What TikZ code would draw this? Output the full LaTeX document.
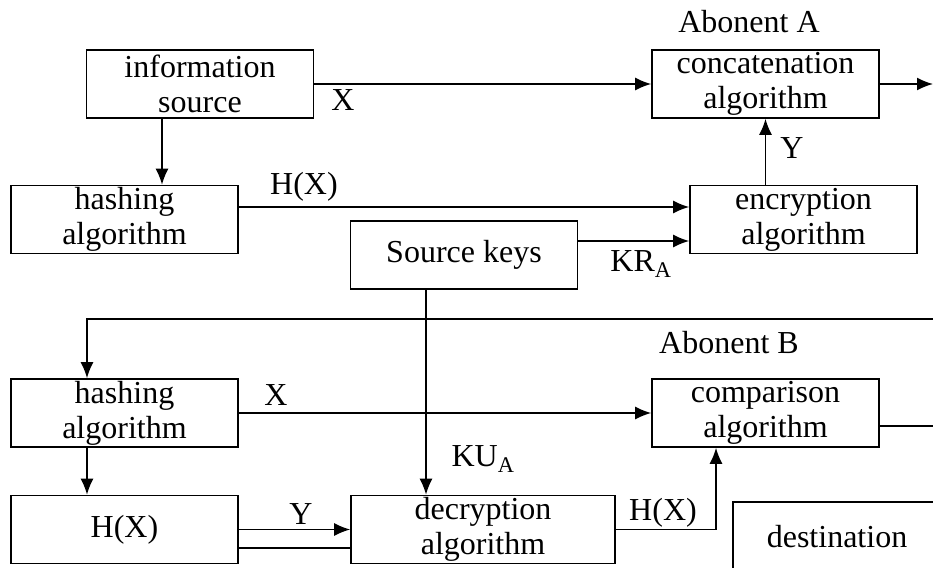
\documentclass[tikz,border=0pt]{standalone}
\usepackage{fontspec}
\setmainfont{Liberation Serif}
\usetikzlibrary{arrows.meta}
\tikzset{>={Latex[length=16pt,width=13pt]}}

\begin{document}
\begin{tikzpicture}[x=1pt, y=-1pt, font=\fontsize{32}{35}\selectfont]
	\tikzstyle{block} = [draw=black, line width=1.6pt, minimum width=227pt, minimum height=68pt, inner sep=0pt, align=center]
	\tikzstyle{edge} = [->, line width=1.6pt]
	\tikzstyle{wire} = [line width=1.6pt]
	\tikzstyle{lbl} = [inner sep=0pt]

	\useasboundingbox (0,0) rectangle (933,567);
	\clip (0,0) rectangle (933,567);

%----------Abonent A------------------------------------------
	\node[block] (src) at (200,84) {information\\source};
	\node[block] (concat) at (765.5,84) {concatenation\\algorithm};
	\node[lbl] (abA) at (749,22) {Abonent A};
	\node[block] (hash1) at (124.5,219.5) {hashing\\algorithm};
	\node[block] (enc) at (803.5,219.5) {encryption\\algorithm};
	\node[block] (keys) at (464,255) {Source keys};

	\coordinate (outA) at (933,84);

	\draw[edge] (src) -- (concat);
	\draw[edge] (concat) -- (outA);
	\draw[edge] ([xshift=-38pt]src.south) -- ([xshift=-38pt]src.south |- hash1.north);
	\draw[edge] ([yshift=12.5pt]hash1.east) -- ([yshift=12.5pt]hash1.east -| enc.west);
	\draw[edge] ([yshift=14pt]keys.east) -- ([yshift=14pt]keys.east -| enc.west);
	\draw[edge] (enc.north -| concat.south) -- (concat.south);

	\node[lbl] (lx1) at (343,100) {X};
	\node[lbl] (ly1) at (792,148) {Y};
	\node[lbl] (lh1) at (304,187) {H(X)};
	\node[lbl] (lkr) at (641,264) {KR\textsubscript{A}};

%----------Abonent B------------------------------------------
	\node[block] (hash2) at (124.5,413) {hashing\\algorithm};
	\node[block] (comp) at (765.5,413) {comparison\\algorithm};
	\node[lbl] (abB) at (729,343) {Abonent B};
	\node[block] (hx) at (124.5,529.5) {H(X)};
	\node[block, minimum width=264pt] (dec) at (483,529.5) {decryption\\algorithm};
	\node[block, minimum width=208pt, minimum height=70pt] (dest) at (837,537) {destination};

	\coordinate (inB) at (933,319);
	\coordinate (outB) at (933,426);

	\draw[edge] ([xshift=-38pt]keys.south) -- ([xshift=-38pt]keys.south |- dec.north);
	\draw[edge] (inB) -| ([xshift=-37.5pt]hash2.north);
	\draw[edge] (hash2) -- (comp);
	\draw[wire] ([yshift=-13pt]comp.east) -- (outB);
	\draw[edge] ([xshift=-37.5pt]hash2.south) -- ([xshift=-37.5pt]hx.north);
	\draw[edge] (hx) -- (dec);
	\draw[wire] ([yshift=-18.5pt]hx.east) -- ([yshift=-18.5pt]hx.east -| dec.west);
	\draw[edge] (dec.east) -| ([xshift=-49.5pt]comp.south);

	\node[lbl] (lx2) at (276,395) {X};
	\node[lbl] (lku) at (483,459) {KU\textsubscript{A}};
	\node[lbl] (ly2) at (301,514) {Y};
	\node[lbl] (lh2) at (663,513) {H(X)};
\end{tikzpicture}
\end{document}
